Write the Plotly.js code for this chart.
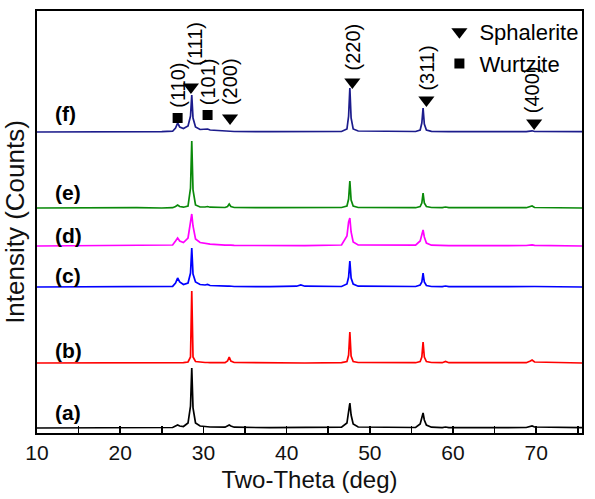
<!DOCTYPE html>
<html>
<head>
<meta charset="utf-8">
<script src="https://cdn.plot.ly/plotly-3.0.1.min.js"></script>
<style>html,body{margin:0;padding:0;background:#fff;}#chart{width:595px;height:499px;}</style>
</head>
<body>
<div id="chart"></div>
<script>
// 2-theta sampling positions (deg)
var twoTheta = [10, 14, 18, 22, 25, 26.3, 26.65, 26.9, 27.15, 27.6,
  28.15, 28.45, 28.6, 28.75, 29.05, 29.6, 30.2, 30.5, 30.8, 32.6,
  32.9, 33.1, 33.3, 33.7, 38, 41.2, 41.7, 42.2, 46.6, 47.25,
  47.45, 47.6, 47.75, 48.0, 48.6, 55.5, 56.05, 56.25, 56.4, 56.55,
  56.8, 57.4, 58.7, 59.1, 59.5, 68.8, 69.3, 69.5, 69.8, 75.5];

// intensities (a.u.)
var intA = [0, 0, 0, 0, 0.3, 0.5, 2, 3, 2, 1.5,
  5, 22, 60, 20, 5, 2, 1.5, 1.2, 1, 0.8,
  2, 3, 2, 0.8, 0.3, 0.3, 0.5, 0.3, 0.8, 5,
  16, 25, 13, 4, 1, 0.5, 4, 10, 15, 8,
  3, 0.8, 0.3, 1, 0.3, 0.5, 1.5, 2, 1, 0.3];
var intB = [0, 0, 0, 0, 0, 0, 0.3, 0.5, 0.3, 0.3,
  1, 6, 72, 6, 1.5, 0.8, 0.5, 0.5, 0.3, 0.3,
  2, 6, 2, 0.5, 0, 0, 0.3, 0, 0.3, 1.5,
  8, 31, 7, 1.5, 0.5, 0.3, 1.5, 6, 21, 6,
  1.5, 0.5, 0.3, 1.5, 0.3, 0.3, 2, 3, 1, 0];
var intC = [0, 0, 0.3, 0, 0.3, 0.6, 4, 9, 5, 2.5,
  4, 14, 39, 13, 5, 2.5, 2, 2.5, 1.5, 0.5,
  0.8, 1, 0.6, 0.5, 0.3, 0.8, 2, 0.8, 0.5, 3,
  10, 26, 9, 3, 0.8, 0.5, 2, 5, 14, 5,
  1.5, 0.5, 0.3, 1, 0.3, 0.3, 0.8, 1, 0.5, 0];
var intD = [0, 0.3, 0, 0.3, 0.5, 1, 5, 8, 5, 3.5,
  8, 24, 32, 20, 7, 3.5, 2.5, 2.5, 1.8, 0.8,
  1, 1.2, 0.8, 0.6, 0.3, 0.3, 0.5, 0.3, 1, 10,
  24, 28, 14, 4, 1, 0.8, 5, 13, 16, 9,
  3, 0.8, 0.3, 0.5, 0.3, 0.5, 1.2, 1.2, 0.6, 0];
var intE = [0, 0.3, 0, 0.3, 0, 0.3, 1.5, 3, 1.5, 0.8,
  2, 20, 67, 18, 3, 1, 1, 1.5, 0.8, 0.5,
  1.5, 4, 1.5, 0.5, 0.3, 0.3, 0.5, 0.3, 0.5, 2,
  9, 27, 8, 2, 0.5, 0.3, 1.5, 5, 15, 5,
  1.5, 0.5, 0.3, 1, 0.3, 0.3, 1.5, 2, 0.5, 0];
var intF = [0, 0, 0.3, 0, 0.3, 0.8, 4, 9, 5, 3.5,
  6, 16, 37, 14, 5, 2.5, 2.5, 3, 2, 0.8,
  1, 1.2, 0.8, 0.5, 0.3, 0.3, 0.5, 0.3, 0.5, 3,
  16, 44, 14, 3, 1, 0.5, 2, 9, 24, 8,
  2, 0.6, 0.3, 0.8, 0.3, 0.3, 0.8, 1.2, 0.5, 0.3];

var sampleLabels = ['(a)', '(b)', '(c)', '(d)', '(e)', '(f)'];
var stackOffsets = [5, 70, 146, 187, 225, 301];

// reflection labels on pattern (f)
var sphaleritePeaks = [28.5, 33.2, 47.9, 56.8, 69.75];
var sphaleriteHkl = ['(111)', '(200)', '(220)', '(311)', '(400)'];
var wurtzitePeaks = [26.9, 30.5];
var wurtziteHkl = ['(110)', '(101)'];
var markerHeights = {sph: [346, 315, 351, 333, 310], wur: [315, 318]};
var xTicks = [10, 20, 30, 40, 50, 60, 70];

var colors = ['#000000', '#ff0000', '#0000ff', '#ff00ff', '#0a8a0a', '#1c1c8c'];
var series = [intA, intB, intC, intD, intE, intF];

var traces = series.map(function (s, i) {
  return {
    x: twoTheta,
    y: s.map(function (v) { return v + stackOffsets[i]; }),
    mode: 'lines', type: 'scatter', name: sampleLabels[i], showlegend: false,
    line: {color: colors[i], width: 1.7}
  };
});
traces.push({
  x: sphaleritePeaks, y: markerHeights.sph, mode: 'markers', type: 'scatter',
  name: 'Sphalerite', marker: {symbol: 'triangle-down', size: 14, color: '#000'}
});
traces.push({
  x: wurtzitePeaks, y: markerHeights.wur, mode: 'markers', type: 'scatter',
  name: 'Wurtzite', marker: {symbol: 'square', size: 10, color: '#000'}
});

var FONT = 'Liberation Sans, Arial, sans-serif';
var ann = [];
var labelY = [21, 83, 158, 198, 241, 320];
sampleLabels.forEach(function (t, i) {
  ann.push({x: 11.9, y: labelY[i], xref: 'x', yref: 'y', text: '<b>' + t + '</b>', showarrow: false,
    xanchor: 'left', yanchor: 'middle', font: {family: FONT, size: 21, color: '#000'}});
});
var hklY = {sph: [389, 351, 386, 364.5, 343], wur: [348, 351.5]};
var hklX = {sph: [28.96, 33.2, 47.92, 56.76, 69.52], wur: [26.92, 30.52]};
sphaleriteHkl.forEach(function (t, i) {
  ann.push({x: hklX.sph[i], y: hklY.sph[i], xref: 'x', yref: 'y', text: t, textangle: -90, showarrow: false,
    font: {family: FONT, size: 20, color: '#000'}});
});
wurtziteHkl.forEach(function (t, i) {
  ann.push({x: hklX.wur[i], y: hklY.wur[i], xref: 'x', yref: 'y', text: t, textangle: -90, showarrow: false,
    font: {family: FONT, size: 20, color: '#000'}});
});

var layout = {
  width: 595, height: 499,
  margin: {l: 37, r: 12, t: 11, b: 66},
  paper_bgcolor: '#fff', plot_bgcolor: '#fff',
  font: {family: FONT, color: '#000'},
  showlegend: true,
  legend: {x: 0.737, y: 1.0, xanchor: 'left', yanchor: 'top', bgcolor: 'rgba(0,0,0,0)',
    font: {family: FONT, size: 22, color: '#000'}, tracegroupgap: 0, itemwidth: 30},
  xaxis: {
    range: [10, 75.5], tickvals: xTicks, ticks: 'inside', ticklen: 7, tickwidth: 1.5, tickcolor: '#000',
    minor: {dtick: 5, ticks: 'inside', ticklen: 7, tickwidth: 1.5, tickcolor: '#000'},
    showline: true, linecolor: '#000', linewidth: 2, mirror: true, showgrid: false, zeroline: false,
    tickfont: {family: FONT, size: 21, color: '#111'},
    title: {text: 'Two-Theta (deg)', font: {family: FONT, size: 24, color: '#111'}, standoff: 8}
  },
  yaxis: {
    range: [0, 422], showticklabels: false, ticks: '', showline: true, linecolor: '#000', linewidth: 2,
    mirror: true, showgrid: false, zeroline: false,
    title: {text: 'Intensity (Counts)', font: {family: FONT, size: 26, color: '#111'}, standoff: 6}
  },
  annotations: ann
};
Plotly.newPlot('chart', traces, layout, {displayModeBar: false, staticPlot: true});
</script>
</body>
</html>
